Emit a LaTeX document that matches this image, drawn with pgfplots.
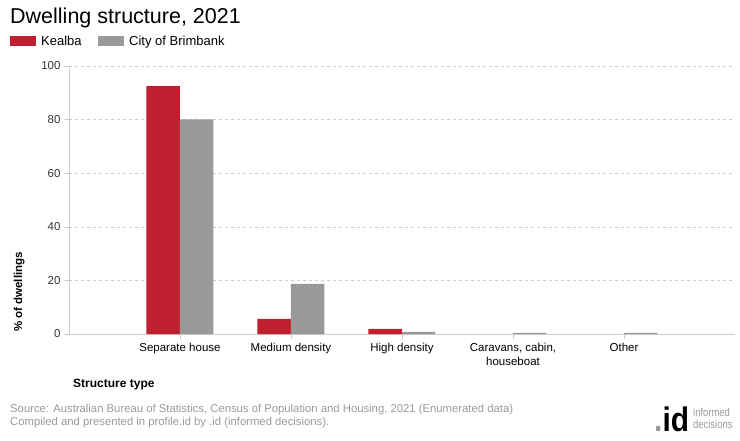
\documentclass[border=0pt]{standalone}
\usepackage{pgfplots}
\pgfplotsset{compat=1.18}
\usepackage{fontspec}
\setmainfont{Liberation Sans}
\definecolor{kred}{HTML}{C01F2F}
\definecolor{bgray}{HTML}{999999}
\definecolor{gridc}{HTML}{CCCCCC}
\definecolor{srcc}{HTML}{999999}
\begin{document}
\begin{tikzpicture}[x=1pt,y=1pt]
\path[use as bounding box] (0,0) rectangle (740,440);
% title
\node[anchor=base west,inner sep=0pt,font=\fontsize{21.5}{24}\selectfont] at (10,440-24) {Dwelling structure, 2021};
% legend
\fill[kred] (10,440-46) rectangle (36,440-36);
\node[anchor=base west,inner sep=0pt,font=\fontsize{13}{15}\selectfont] at (41,440-46) {Kealba};
\fill[bgray] (98,440-46) rectangle (124,440-36);
\node[anchor=base west,inner sep=0pt,font=\fontsize{13}{15}\selectfont] at (129,440-46) {City of Brimbank};
\begin{axis}[
  at={(69pt,106pt)}, anchor=south west,
  scale only axis, width=666pt, height=268pt,
  xmin=-1, xmax=5, ymin=0, ymax=100,
  ybar=0pt, bar width=33.5pt,
  xtick={0,1,2,3,4},
  xticklabels={Separate house,Medium density,High density,{Caravans, cabin,\\houseboat},Other},
  xticklabel style={align=center,font=\fontsize{11.5}{13.5}\selectfont,text=black,yshift=-1pt},
  ytick={0,20,40,60,80,100},
  yticklabel style={font=\fontsize{11.5}{13}\selectfont,text=black!80},
  /pgf/number format/assume math mode=true,
  tick align=outside, major tick length=5pt,
  tick style={gridc},
  axis line style={gridc},
  axis x line*=bottom, axis y line*=left,
  ymajorgrids, grid style={gridc,dashed},
  clip=false,
]
\addplot[fill=kred,draw=none,bar shift=-16.75pt] coordinates {(0,92.5) (1,5.6) (2,1.9)};
\addplot[fill=bgray,draw=none,bar shift=16.75pt] coordinates {(0,80.1) (1,18.7) (2,0.8) (3,0.4) (4,0.4)};
\end{axis}
% y label
\node[rotate=90,anchor=base,inner sep=0pt,font=\fontsize{11.5}{13}\selectfont\bfseries] at (22,440-292) {\% of dwellings};
% x label
\node[anchor=base west,inner sep=0pt,font=\fontsize{12}{14}\selectfont\bfseries] at (73,440-387) {Structure type};
% source
\node[anchor=base west,inner sep=0pt,font=\fontsize{11.3}{13}\selectfont,text=srcc] at (10,440-412) {Source: Australian Bureau of Statistics, Census of Population and Housing, 2021 (Enumerated data)};
\node[anchor=base west,inner sep=0pt,font=\fontsize{11.3}{13}\selectfont,text=srcc] at (10,440-425) {Compiled and presented in profile.id by .id (informed decisions).};
% logo
\node[anchor=base west,inner sep=0pt,font=\fontsize{34}{36}\selectfont\bfseries] at (654,440-431) {\scalebox{0.88}[1]{{\color{bgray}.}id}};
\node[anchor=base west,inner sep=0pt,font=\fontsize{11.5}{12}\selectfont,text=bgray] at (693,440-416) {\scalebox{0.82}[1]{informed}};
\node[anchor=base west,inner sep=0pt,font=\fontsize{11.5}{12}\selectfont,text=bgray] at (693,440-428) {\scalebox{0.82}[1]{decisions}};
\end{tikzpicture}
\end{document}
